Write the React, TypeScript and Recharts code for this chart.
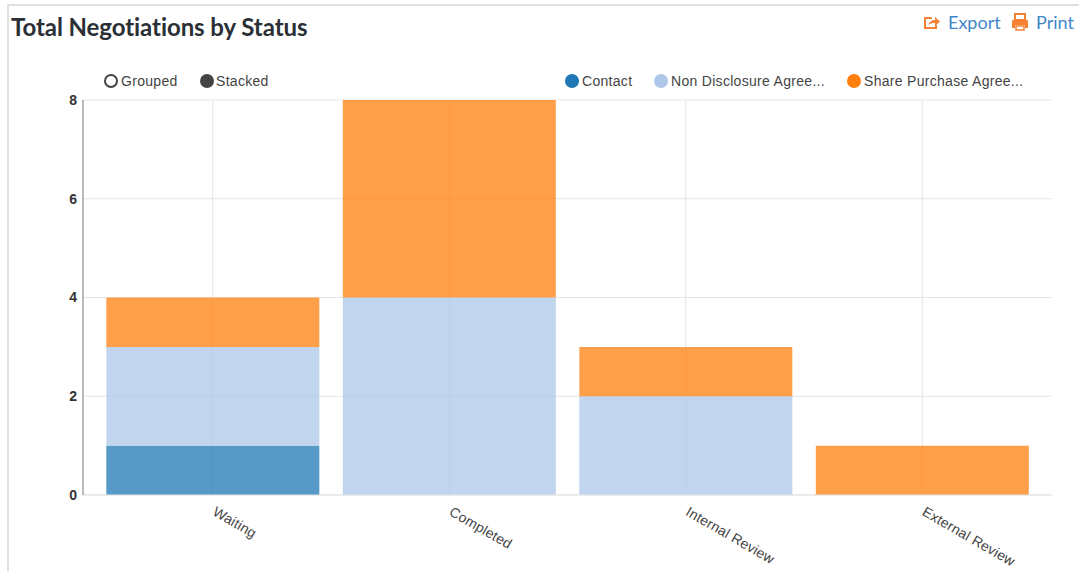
import React from 'react';
import { BarChart, Bar, CartesianGrid, XAxis, YAxis } from 'recharts';

const statuses = ['Waiting', 'Completed', 'Internal Review', 'External Review'];
const contactCounts = [1, 0, 0, 0];
const ndaCounts = [2, 4, 2, 0];
const spaCounts = [1, 4, 1, 1];
const yTicks = [0, 2, 4, 6, 8];

const CONTACT = 'Contact';
const NDA = 'Non Disclosure Agree...';
const SPA = 'Share Purchase Agree...';

const chartData = statuses.map((name, i) => ({
    name,
    [CONTACT]: contactCounts[i],
    [NDA]: ndaCounts[i],
    [SPA]: spaCounts[i],
}));

const SANS = '"Liberation Sans", Arial, sans-serif';
const LINK_BLUE = '#3f87c9';
const ICON_ORANGE = '#f58233';

const dotStyle = (left: number, color: string): React.CSSProperties => ({
    position: 'absolute',
    left,
    top: 74,
    width: 14,
    height: 14,
    borderRadius: '50%',
    background: color,
    boxSizing: 'border-box',
});

const labelStyle = (left: number): React.CSSProperties => ({
    position: 'absolute',
    left,
    top: 73,
    fontFamily: SANS,
    fontSize: 14,
    lineHeight: '16px',
    letterSpacing: 0.3,
    color: '#444',
    whiteSpace: 'nowrap',
});

// Grouped/Stacked switch on the left, series keys on the right
const ChartLegend = () => (
    <div>
        <span style={{ ...dotStyle(104, '#fff'), border: '2.5px solid #444' }} />
        <span style={labelStyle(121)}>Grouped</span>
        <span style={dotStyle(200, '#444')} />
        <span style={labelStyle(216)}>Stacked</span>
        <span style={dotStyle(565, '#1f77b4')} />
        <span style={labelStyle(582)}>{CONTACT}</span>
        <span style={dotStyle(654, '#aec7e8')} />
        <span style={labelStyle(671)}>{NDA}</span>
        <span style={dotStyle(847, '#ff7f0e')} />
        <span style={labelStyle(864)}>{SPA}</span>
    </div>
);

const ExportIcon = () => (
    <svg width="18" height="14" viewBox="0 0 18 14" style={{ position: 'absolute', left: 923, top: 16 }}>
        <path d="M9 2H2v10h11V9" fill="none" stroke={ICON_ORANGE} strokeWidth="2" />
        <path d="M5 9c1-3 4-5 7-5V1l5 4.500-5 4.500V7c-3 0-5 .5-7 2z" fill={ICON_ORANGE} />
    </svg>
);

const PrintIcon = () => (
    <svg width="18" height="18" viewBox="0 0 18 18" style={{ position: 'absolute', left: 1011, top: 13 }}>
        <path d="M4 1h10v6H4z" fill="none" stroke={ICON_ORANGE} strokeWidth="2" />
        <path d="M1 7h16v8h-3v-3H4v3H1z" fill={ICON_ORANGE} />
        <path d="M5 13h8v4H5z" fill="none" stroke={ICON_ORANGE} strokeWidth="1.500" />
    </svg>
);

const linkStyle = (left: number): React.CSSProperties => ({
    position: 'absolute',
    left,
    top: 10,
    fontFamily: 'Lato, sans-serif',
    fontSize: 18,
    lineHeight: '24px',
    color: LINK_BLUE,
});

// Slanted category label, starting just under the band centre
const StatusTick = ({ x, y, payload }: any) => (
    <text
        x={x + 4}
        y={y + 3}
        transform={`rotate(30 ${x + 4} ${y + 3})`}
        dy="0.71em"
        textAnchor="start"
        fill="#444"
        fontSize={14}
        letterSpacing={0.2}
        fontFamily={SANS}
    >
        {payload.value}
    </text>
);

export default function App() {
    return (
        <div style={{ position: 'absolute', left: 0, top: 0, width: 1079, height: 571, background: '#fff', overflow: 'hidden' }}>
            <div style={{ position: 'absolute', left: 7, top: 4, right: 0, bottom: 0, borderTop: '2px solid #e0e0e0', borderLeft: '2px solid #e0e0e0' }} />
            <div style={{ position: 'absolute', left: 11, top: 12, fontFamily: 'Lato, sans-serif', fontWeight: 700, fontSize: 24, lineHeight: '30px', letterSpacing: -0.07, color: '#2b2f36', whiteSpace: 'nowrap' }}>
                Total Negotiations by Status
            </div>
            <ExportIcon />
            <span style={linkStyle(948)}>Export</span>
            <PrintIcon />
            <span style={linkStyle(1036)}>Print</span>
            <ChartLegend />
            <BarChart
                width={1079}
                height={571}
                data={chartData}
                margin={{ top: 100, right: 27, bottom: 0, left: 0 }}
                barCategoryGap="5%"
                style={{ position: 'absolute', left: 0, top: 0 }}
            >
                <CartesianGrid stroke="#e5e5e5" syncWithTicks />
                <XAxis
                    dataKey="name"
                    height={76}
                    interval={0}
                    padding={{ left: 11.5, right: 11.5 }}
                    tick={<StatusTick />}
                    tickLine={false}
                    axisLine={{ stroke: '#e5e5e5' }}
                />
                <YAxis
                    width={83}
                    domain={[0, 8]}
                    ticks={yTicks}
                    tickLine={false}
                    tickMargin={0}
                    axisLine={{ stroke: '#777' }}
                    tick={{ fill: '#333', fontSize: 14, fontWeight: 700, fontFamily: SANS }}
                />
                <Bar dataKey={CONTACT} stackId="status" fill="#1f77b4" fillOpacity={0.75} isAnimationActive={false} />
                <Bar dataKey={NDA} stackId="status" fill="#aec7e8" fillOpacity={0.75} isAnimationActive={false} />
                <Bar dataKey={SPA} stackId="status" fill="#ff7f0e" fillOpacity={0.75} isAnimationActive={false} />
            </BarChart>
        </div>
    );
}
